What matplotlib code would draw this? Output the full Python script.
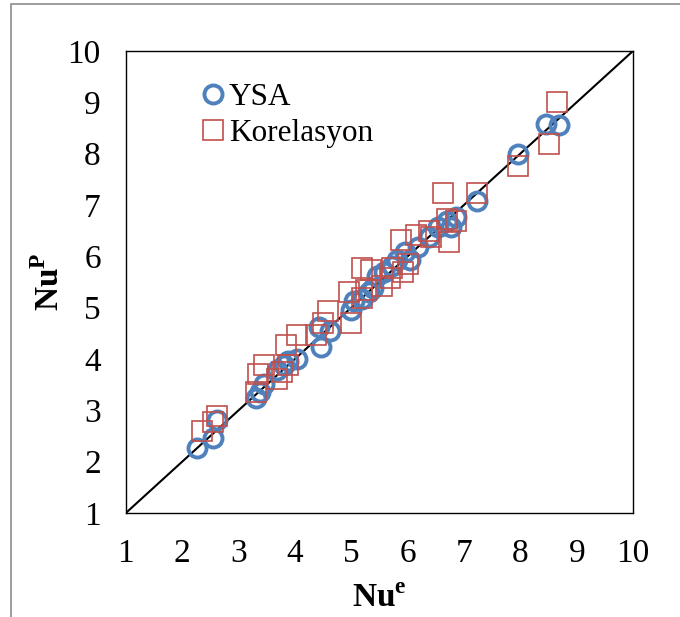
import matplotlib
matplotlib.use("Agg")
import matplotlib.pyplot as plt
from matplotlib.patches import Rectangle

# YSA (ANN) predictions: experimental Nu vs predicted Nu
ysa_x = [2.27, 2.54, 2.62, 3.31, 3.38, 3.46, 3.69, 3.81, 3.88, 4.04,
         4.42, 4.46, 4.62, 5.00, 5.04, 5.19, 5.31, 5.38, 5.46, 5.58,
         5.73, 5.81, 5.96, 6.04, 6.19, 6.38, 6.54, 6.69, 6.77, 6.85,
         7.23, 7.96, 8.46, 8.69]
ysa_y = [2.27, 2.47, 2.82, 3.24, 3.35, 3.51, 3.78, 3.89, 3.97, 4.00,
         4.63, 4.24, 4.54, 4.96, 5.12, 5.16, 5.31, 5.39, 5.62, 5.69,
         5.81, 5.92, 6.08, 5.92, 6.19, 6.38, 6.58, 6.69, 6.58, 6.77,
         7.07, 7.99, 8.57, 8.55]

# Correlation predictions
kor_x = [2.35, 2.54, 2.62, 3.31, 3.35, 3.46, 3.69, 3.77, 3.85, 3.88,
         4.04, 4.38, 4.50, 4.58, 5.00, 4.96, 5.19, 5.19, 5.27, 5.35,
         5.54, 5.69, 5.73, 5.88, 5.92, 6.00, 6.15, 6.38, 6.42, 6.62,
         6.69, 6.73, 6.85, 7.23, 7.96, 8.50, 8.65]
kor_y = [2.59, 2.78, 2.89, 3.35, 3.70, 3.89, 3.62, 3.74, 4.27, 3.89,
         4.47, 4.47, 4.70, 4.93, 4.70, 5.31, 5.77, 5.19, 5.35, 5.73,
         5.42, 5.58, 5.77, 6.31, 5.69, 5.85, 6.42, 6.50, 6.38, 7.23,
         6.73, 6.27, 6.69, 7.23, 7.76, 8.19, 9.00]

ticks = list(range(1, 11))

plt.rcParams["font.family"] = "Liberation Serif"
plt.rcParams["mathtext.fontset"] = "custom"
plt.rcParams["mathtext.rm"] = "Liberation Serif"
plt.rcParams["mathtext.bf"] = "Liberation Serif:bold"

fig = plt.figure(figsize=(6.8, 6.17), dpi=100)
ax = fig.add_axes([0.185, 0.1685, 0.746, 0.749])

# grey outer frame (chart area border)
fig.patches.append(Rectangle((11 / 680, -0.05), 1.2, 1 - 4 / 617 + 0.05,
                             transform=fig.transFigure, fill=False,
                             edgecolor="#8c8c8c", linewidth=1.2))

ax.plot([1, 10], [1, 10], color="black", linewidth=1.5, zorder=1)
ax.plot(ysa_x, ysa_y, linestyle="none", marker="o", markersize=13,
        markerfacecolor="none", markeredgecolor="#4F81BD",
        markeredgewidth=2.8, label="YSA", zorder=2)
ax.plot(kor_x, kor_y, linestyle="none", marker="s", markersize=14.5,
        markerfacecolor="none", markeredgecolor="#C0504D",
        markeredgewidth=1.2, label="Korelasyon", zorder=3)

ax.set_xlim(1, 10)
ax.set_ylim(1, 10)
ax.set_xticks(ticks)
ax.set_yticks(ticks)
ax.tick_params(length=0, labelsize=24, pad=18)
for s in ax.spines.values():
    s.set_color("black")
    s.set_linewidth(1.0)

ax.set_xlabel(r"$\mathbf{Nu}^{\mathbf{e}}$", fontsize=24, labelpad=11)
ax.set_ylabel(r"$\mathbf{Nu}^{\mathbf{P}}$", fontsize=24, labelpad=1)

ax.legend(loc="upper left", bbox_to_anchor=(0.123, 0.957), frameon=False,
          fontsize=22.5, handletextpad=0.1, handlelength=0.8,
          labelspacing=0.2, borderaxespad=0)

fig.savefig("out.png", dpi=100)
